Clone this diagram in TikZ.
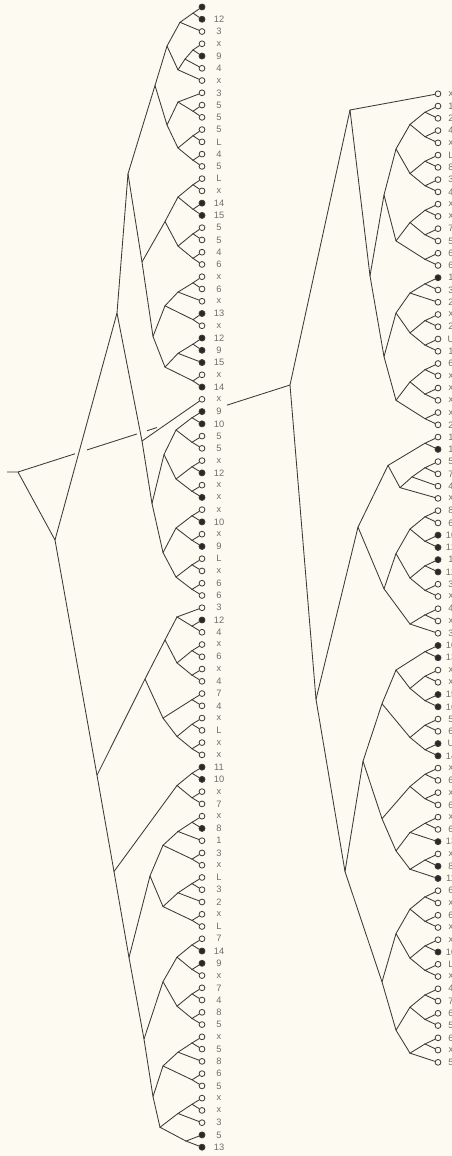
\documentclass[tikz,border=0pt]{standalone}
\usepackage{fontspec}
\setmainfont{Liberation Sans}
\usetikzlibrary{calc}
\definecolor{paper}{HTML}{FCFAF1}
\definecolor{ink}{HTML}{3A3A38}
\definecolor{labc}{HTML}{6E6E6A}
\tikzset{
 br/.style={draw=ink, line width=0.85pt},
 lo/.style={circle, draw=ink, fill=paper, line width=0.8pt, inner sep=0pt, minimum size=5.8pt},
 lf/.style={circle, draw=ink, fill=ink!70!black, line width=0.8pt, inner sep=0pt, minimum size=6pt},
 lab/.style={text=labc, font=\fontsize{9.3}{10}\selectfont, inner sep=0pt},
}
\newcommand\jn[4]{\coordinate (#1m) at ($(#2)!0.5!(#3)$);\coordinate (#1) at (#1m -| #4,0);\draw[br] (#2) -- (#1) -- (#3);}
\newcommand\jnx[5]{\coordinate (#1) at (#4,#5);\draw[br] (#2) -- (#1) -- (#3);}
\begin{document}
\begin{tikzpicture}[x=1pt,y=-1pt]
\path[use as bounding box, fill=paper] (0,0) rectangle (452,1156);
% left leaves
\foreach \t/\s [count=\i] in {{}/lf,12/lf,3/lo,x/lo,9/lf,4/lo,x/lo,3/lo,5/lo,5/lo,5/lo,L/lo,4/lo,5/lo,L/lo,x/lo,14/lf,15/lf,5/lo,5/lo,4/lo,6/lo,x/lo,6/lo,x/lo,13/lf,x/lo,12/lf,9/lf,15/lf,x/lo,14/lf,x/lo,9/lf,10/lf,5/lo,5/lo,x/lo,12/lf,x/lo,x/lf,x/lo,10/lf,x/lo,9/lf,L/lo,x/lo,6/lo,6/lo,3/lo,12/lf,4/lo,x/lo,6/lo,x/lo,4/lo,7/lo,4/lo,x/lo,L/lo,x/lo,x/lo,11/lf,10/lf,x/lo,7/lo,x/lo,8/lf,1/lo,3/lo,x/lo,L/lo,3/lo,2/lo,x/lo,L/lo,7/lo,14/lf,9/lf,x/lo,7/lo,4/lo,8/lo,5/lo,x/lo,5/lo,8/lo,6/lo,5/lo,x/lo,x/lo,3/lo,5/lf,13/lf}{
 \pgfmathsetmacro\yy{7+(\i-1)*12.26}
 \node[\s] (L\i) at (202,\yy) {};
 \node[lab] (LT\i) at (219,\yy) {\t};
}
% right leaves
\foreach \t/\s [count=\i] in {x/lo,1/lo,2/lo,4/lo,x/lo,L/lo,8/lo,3/lo,4/lo,x/lo,x/lo,7/lo,5/lo,6/lo,6/lo,1/lf,3/lo,2/lo,x/lo,2/lo,U/lo,1/lo,6/lo,x/lo,x/lo,x/lo,x/lo,2/lo,1/lo,1/lf,5/lo,7/lo,4/lo,x/lo,8/lo,6/lo,10/lf,12/lf,1/lf,12/lf,3/lo,x/lo,4/lo,x/lo,3/lo,10/lf,13/lf,x/lo,x/lo,15/lf,16/lf,5/lo,6/lo,U/lf,14/lf,x/lo,6/lo,x/lo,6/lo,x/lo,6/lo,13/lf,x/lo,8/lf,11/lf,6/lo,x/lo,6/lo,x/lo,x/lo,10/lf,L/lo,x/lo,4/lo,7/lo,6/lo,5/lo,6/lo,x/lo,5/lo}{
 \pgfmathsetmacro\yy{93.8+(\i-1)*12.26}
 \node[\s] (R\i) at (438,\yy) {};
 \node[lab] (RT\i) at (451,\yy) {\t};
}
% ---- left tree, top clade
\jn{a}{L1}{L2}{193}\jn{a2}{a}{L3}{180}
\jn{b}{L4}{L5}{193}\jn{b2}{b}{L6}{185}\jn{b3}{b2}{L7}{178}
\jn{c}{a2}{b3}{167}
\jn{d}{L9}{L10}{193}\jn{d2}{L8}{d}{178}
\jn{e}{L11}{L12}{193}\jn{f}{L13}{L14}{193}\jn{ef}{e}{f}{178}
\jn{g}{d2}{ef}{167}
\jn{h}{c}{g}{155}
\jn{i}{L15}{L16}{193}\jn{j}{L17}{L18}{193}\jn{ij}{i}{j}{178}
\jn{k}{L19}{L20}{193}\jn{l}{L21}{L22}{193}\jn{kl}{k}{l}{178}
\jn{m}{ij}{kl}{165}
\jn{n}{L23}{L24}{193}\jn{n2}{n}{L25}{178}\jn{o}{L26}{L27}{193}\jn{p}{n2}{o}{165}
\jn{q}{L28}{L29}{193}\jn{q2}{q}{L30}{178}\jn{r}{L31}{L32}{193}\jn{s}{q2}{r}{165}
\jn{t}{p}{s}{153}
\jnx{mt}{m}{t}{142}{262}
\jn{X}{h}{mt}{128}
% ladder
\jn{ya1}{L34}{L35}{192}\jn{ya2}{L36}{L37}{192}\jn{ya12}{ya1}{ya2}{176}
\jn{ya3}{L38}{L39}{192}\jn{ya4}{L40}{L41}{192}\jn{ya34}{ya3}{ya4}{176}
\jn{ya8}{ya12}{ya34}{164}
\jn{ya5}{L42}{L43}{192}\jn{ya6}{L44}{L45}{192}\jn{ya56}{ya5}{ya6}{176}
\jn{ya7}{L46}{L47}{192}\jn{ya9}{L48}{L49}{192}\jn{ya79}{ya7}{ya9}{176}
\jn{ya16}{ya56}{ya79}{163}
\jn{yb}{ya8}{ya16}{152}
\jnx{ya}{L33}{yb}{142}{441}
\jnx{U}{X}{ya}{117}{313}
% lower part
\jn{z1}{L51}{L52}{192}\jn{z2}{L50}{z1}{177}\jn{z3}{L53}{L54}{192}\jn{z4}{L55}{L56}{192}\jn{z34}{z3}{z4}{177}\jn{Z1}{z2}{z34}{165}
\jn{z5}{L57}{L58}{192}\jn{z6}{L59}{L60}{192}\jn{z7}{L61}{L62}{192}\jn{z67}{z6}{z7}{177}\jn{z8}{z5}{z67}{163}
\jn{W2}{Z1}{z8}{145}
\jn{w1}{L63}{L64}{192}\jn{w2}{L65}{L66}{192}\jn{Z3}{w1}{w2}{177}
\jn{w3}{L67}{L68}{192}\jn{w4}{w3}{L69}{178}\jn{w5}{L70}{L71}{192}\jn{w45}{w4}{w5}{163}
\jn{w6}{L72}{L73}{192}\jn{w7}{w6}{L74}{178}\jn{w8}{L75}{L76}{192}\jn{w78}{w7}{w8}{163}
\jn{Z4}{w45}{w78}{150}
\jn{v1}{L77}{L78}{192}\jn{v2}{L79}{L80}{192}\jn{v12}{v1}{v2}{177}\jn{v3}{L81}{L82}{192}\jn{v4}{L83}{L84}{192}\jn{v34}{v3}{v4}{177}\jn{Z5}{v12}{v34}{163}
\jn{u1}{L85}{L86}{192}\jn{u2}{u1}{L87}{178}\jn{u3}{L88}{L89}{192}\jn{u23}{u2}{u3}{163}
\jn{u4}{L90}{L91}{192}\jn{u5}{u4}{L92}{178}\jn{u6}{L93}{L94}{186}
\jn{Sp5}{u5}{u6}{160}
\jn{Sp4}{u23}{Sp5}{153}
\jn{Sp3}{Z5}{Sp4}{144}
\jn{Sp2}{Z4}{Sp3}{129}
\jn{Sp1}{Z3}{Sp2}{114}
\jn{S0}{W2}{Sp1}{97}
\jnx{V}{U}{S0}{55}{540}
% ---- right tree
\jn{ra1}{R2}{R3}{425}\jn{ra2}{R4}{R5}{425}\jn{ra12}{ra1}{ra2}{410}\jn{ra3}{R6}{R7}{425}\jn{ra4}{R8}{R9}{425}\jn{ra34}{ra3}{ra4}{410}
\jn{ra5}{R10}{R11}{425}\jn{ra6}{R12}{R13}{425}\jn{ra56}{ra5}{ra6}{410}\jn{ra7}{R14}{R15}{425}
\jn{ra14}{ra12}{ra34}{396}\jn{ra57}{ra56}{ra7}{396}\jn{Ra}{ra14}{ra57}{384}
\jn{rb1}{R16}{R17}{425}\jn{rb2}{rb1}{R18}{410}\jn{rb3}{R19}{R20}{425}\jn{rb4}{R21}{R22}{425}\jn{rb34}{rb3}{rb4}{410}
\jn{rb5}{R23}{R24}{425}\jn{rb6}{R25}{R26}{425}\jn{rb56}{rb5}{rb6}{410}\jn{rb7}{R27}{R28}{425}
\jn{rb24}{rb2}{rb34}{396}\jn{rb57}{rb56}{rb7}{396}\jn{Rb}{rb24}{rb57}{384}
\jn{RU2}{Ra}{Rb}{370}
\jnx{RU}{R1}{RU2}{350}{110}
\jn{rc1}{R29}{R30}{425}\jn{rc2}{R31}{R32}{425}\jn{rc3}{rc2}{R33}{412}\jn{rc4}{rc3}{R34}{400}
\jn{rc5}{R35}{R36}{425}\jn{rc6}{R37}{R38}{425}\jn{rc56}{rc5}{rc6}{410}\jn{rc7}{R39}{R40}{425}\jn{rc8}{R41}{R42}{425}\jn{rc78}{rc7}{rc8}{410}
\jn{rc9}{R43}{R44}{425}\jn{rc10}{rc9}{R45}{410}
\jn{rcA}{rc1}{rc4}{388}\jn{rcB}{rc56}{rc78}{396}\jn{rcC}{rcB}{rc10}{384}\jn{RD1}{rcA}{rcC}{358}
\jn{rd1}{R46}{R47}{425}\jn{rd2}{R48}{R49}{425}\jn{rd3}{R50}{R51}{425}\jn{rd23}{rd2}{rd3}{410}\jn{rd1b}{rd1}{rd23}{396}
\jn{rd4}{R52}{R53}{425}\jn{rd5}{R54}{R55}{425}\jn{rd45}{rd4}{rd5}{410}\jn{rdA}{rd1b}{rd45}{382}
\jn{re1}{R56}{R57}{425}\jn{re2}{R58}{R59}{425}\jn{re12}{re1}{re2}{410}\jn{re3}{R60}{R61}{425}\jn{re4}{re3}{R62}{410}
\jn{re5}{R63}{R64}{425}\jn{re6}{re5}{R65}{410}\jn{re46}{re4}{re6}{396}\jn{reA}{re12}{re46}{382}
\jn{rf1}{R66}{R67}{425}\jn{rf2}{R68}{R69}{425}\jn{rf12}{rf1}{rf2}{410}\jn{rf3}{R70}{R71}{425}\jn{rf4}{R72}{R73}{425}\jn{rf34}{rf3}{rf4}{410}
\jn{rf5}{R74}{R75}{425}\jn{rf6}{R76}{R77}{425}\jn{rf56}{rf5}{rf6}{410}\jn{rf7}{R78}{R79}{425}\jn{rf8}{rf7}{R80}{410}
\jn{rfA}{rf12}{rf34}{396}\jn{rfB}{rf56}{rf8}{396}\jn{rfC}{rfA}{rfB}{382}
\jn{rde}{rdA}{reA}{363}\jn{RD2}{rde}{rfC}{345}
\jn{RD}{RD1}{RD2}{316}
\jnx{R0}{RU}{RD}{290}{385}
% ---- root
\coordinate (root) at (18,472);
\coordinate (stub) at (7,472);
\draw[br] (stub) -- (root) -- (V);
\draw[br, dash pattern=on 59.9pt off 12.6pt on 52.5pt off 10.5pt on 10.5pt off 73.5pt on 80pt] (root) -- (R0);
\end{tikzpicture}
\end{document}
